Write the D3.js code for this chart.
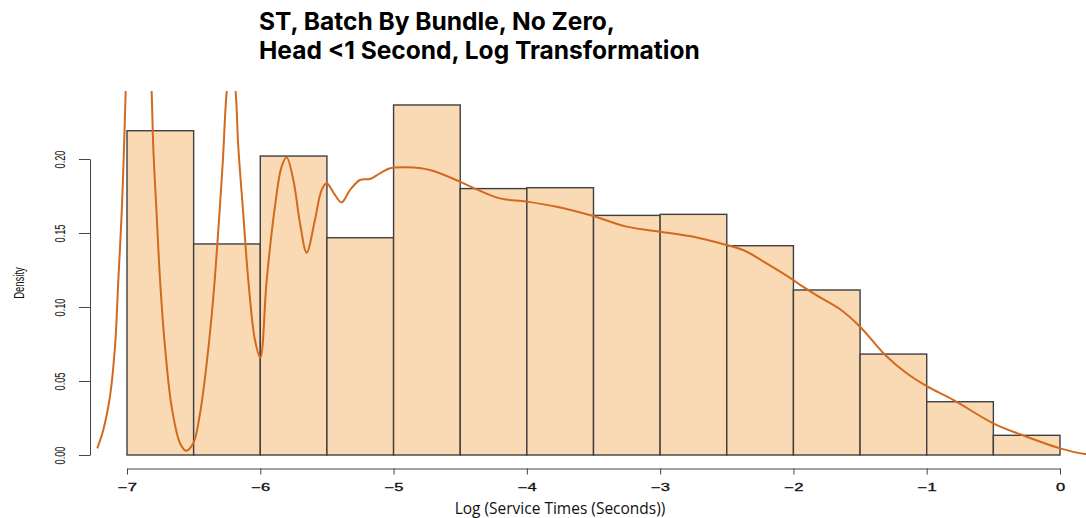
<!DOCTYPE html>
<html>
<head>
<meta charset="utf-8">
<script src="https://cdn.jsdelivr.net/npm/d3@7"></script>
<style>
  html, body { margin: 0; padding: 0; background: #ffffff; }
  svg { display: block; }
</style>
</head>
<body>
<svg id="chart" width="1086" height="518"></svg>
<script>
// Histogram of log service times (bin width 0.5), density scale
const breaks = [-7, -6.5, -6, -5.5, -5, -4.5, -4, -3.5, -3, -2.5, -2, -1.5, -1, -0.5, 0];
const densities = [0.2191, 0.1426, 0.2020, 0.1468, 0.2365, 0.1800, 0.1806,
                   0.1619, 0.1626, 0.1414, 0.1115, 0.0682, 0.0360, 0.0133];

// Kernel density estimate overlay
const kdeX = [-7.223, -7.178, -7.128, -7.09, -7.065, -7.04, -7.022, -7.01, -6.97, -6.912,
              -6.855, -6.815, -6.803, -6.778, -6.752, -6.715, -6.665, -6.602, -6.557, -6.503,
              -6.452, -6.402, -6.352, -6.315, -6.282, -6.252, -6.218, -6.185, -6.165, -6.128,
              -6.09, -6.04, -6.0, -5.952, -5.89, -5.84, -5.802, -5.752, -5.702, -5.652,
              -5.59, -5.54, -5.502, -5.44, -5.39, -5.327, -5.252, -5.177, -5.102, -5.027,
              -4.902, -4.727, -4.502, -4.377, -4.202, -4.002, -3.777, -3.502, -3.252, -3.0,
              -2.75, -2.501, -2.377, -2.202, -2.0, -1.95, -1.8, -1.65, -1.5, -1.312,
              -1.15, -1.0, -0.801, -0.501, -0.3, 0.0, 0.188, 0.27];
const kdeY = [0.0045, 0.0169, 0.0394, 0.0732, 0.1182, 0.1633, 0.2083, 0.2455, 0.34, 0.39,
              0.34, 0.2455, 0.2083, 0.1633, 0.1182, 0.0732, 0.0326, 0.0079, 0.0029, 0.0079,
              0.0282, 0.062, 0.107, 0.152, 0.197, 0.2455, 0.27, 0.2455, 0.2083, 0.1633,
              0.1182, 0.0777, 0.0658, 0.1182, 0.1678, 0.1948, 0.2011, 0.1858, 0.1566, 0.1367,
              0.1588, 0.179, 0.1836, 0.1757, 0.1707, 0.179, 0.1858, 0.1865, 0.1903, 0.1937,
              0.1944, 0.1926, 0.1847, 0.1795, 0.1734, 0.1712, 0.1678, 0.1615, 0.1543, 0.1509,
              0.1475, 0.1419, 0.1385, 0.1295, 0.1182, 0.1149, 0.1065, 0.0985, 0.0867, 0.0676,
              0.0552, 0.0465, 0.0372, 0.0214, 0.014, 0.0045, 0.0007, 0.0002];

const xTicks = [-7, -6, -5, -4, -3, -2, -1, 0];
const yTicks = [0, 0.05, 0.10, 0.15, 0.20];

const titleLines = ["ST, Batch By Bundle, No Zero,", "Head <1 Second, Log Transformation"];
const xTitle = "Log (Service Times (Seconds))";
const yTitle = "Density";

const svg = d3.select("#chart");

const x = d3.scaleLinear().domain([-7, 0]).range([127, 1060]);
const y = d3.scaleLinear().domain([0, 0.2]).range([455, 159]);

const axisColor = "#444";

// Plot region clip (curve runs past the top)
svg.append("defs").append("clipPath").attr("id", "plotClip")
  .append("rect").attr("x", 90).attr("y", 91).attr("width", 1010).attr("height", 380);

// Bars
const bins = densities.map((d, i) => ({ x0: breaks[i], x1: breaks[i + 1], d }));
svg.append("g").selectAll("rect").data(bins).join("rect")
  .attr("x", b => x(b.x0))
  .attr("y", b => y(b.d))
  .attr("width", b => x(b.x1) - x(b.x0))
  .attr("height", b => y(0) - y(b.d))
  .attr("fill", "#FADAB4")
  .attr("stroke", "#3f3f3f")
  .attr("stroke-width", 1.4);

// Density curve
const pts = kdeX.map((v, i) => [v, kdeY[i]]);
svg.append("path")
  .datum(pts)
  .attr("clip-path", "url(#plotClip)")
  .attr("fill", "none")
  .attr("stroke", "#D2691E")
  .attr("stroke-width", 2)
  .attr("d", d3.line().x(p => x(p[0])).y(p => y(p[1])).curve(d3.curveCatmullRom.alpha(0.5)));

// X axis
const gx = svg.append("g")
  .attr("transform", "translate(0,468.5)")
  .call(d3.axisBottom(x).tickValues(xTicks).tickSize(6).tickSizeOuter(0).tickPadding(9)
    .tickFormat(d3.format("d")));
gx.select(".domain").attr("stroke", axisColor);
gx.selectAll(".tick line").attr("stroke", axisColor);
gx.selectAll(".tick text")
  .attr("font-family", "'Liberation Sans', Arial, sans-serif")
  .attr("font-size", 10)
  .attr("fill", "#111")
  .attr("stroke", "#111").attr("stroke-width", 0.3)
  .attr("transform", "scale(1.65,1)");

// Y axis
const gy = svg.append("g")
  .attr("transform", "translate(90,0)")
  .call(d3.axisLeft(y).tickValues(yTicks).tickSize(11).tickSizeOuter(0)
    .tickFormat(d3.format(".2f")));
gy.select(".domain").attr("stroke", axisColor);
gy.selectAll(".tick line").attr("stroke", axisColor);
gy.selectAll(".tick text")
  .attr("x", null).attr("dy", null)
  .attr("font-family", "'Liberation Sans', Arial, sans-serif")
  .attr("font-size", 14)
  .attr("fill", "#111")
  .attr("text-anchor", "middle")
  .attr("transform", "translate(-30,0) rotate(-90) scale(0.66,1)")
  .attr("dy", "0.35em");

// Y title
svg.append("text")
  .attr("transform", "translate(19,283) rotate(-90) scale(0.68,1)")
  .attr("text-anchor", "middle")
  .attr("dy", "0.35em")
  .attr("font-family", "'Liberation Sans', Arial, sans-serif")
  .attr("font-size", 14)
  .attr("fill", "#111")
  .text(yTitle);

// X title
svg.append("text")
  .attr("x", 560).attr("y", 514)
  .attr("text-anchor", "middle")
  .attr("font-family", "'Open Sans', 'Liberation Sans', sans-serif")
  .attr("font-size", 15.5)
  .attr("fill", "#111")
  .text(xTitle);

// Title (two lines), sized to its line width
const title = svg.append("g");
const t1 = title.append("text").attr("x", 259).attr("y", 30).text(titleLines[0]);
const t2 = title.append("text").attr("x", 259).attr("y", 59).text(titleLines[1]);
title.selectAll("text")
  .attr("font-family", "Inter, 'Liberation Sans', sans-serif")
  .attr("font-weight", 700)
  .attr("font-size", 21)
  .attr("fill", "#000");
const w2 = t2.node().getComputedTextLength();
const fs = 21 * 441 / w2;
title.selectAll("text").attr("font-size", fs);
</script>
</body>
</html>
